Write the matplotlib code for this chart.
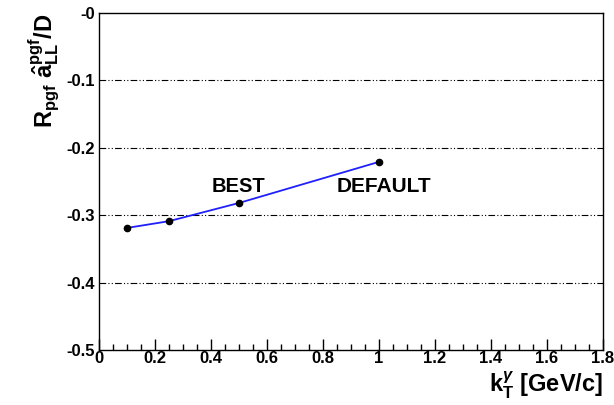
import matplotlib
matplotlib.use("Agg")
import matplotlib.pyplot as plt
from matplotlib.ticker import MultipleLocator

plt.rcParams["font.family"] = ["Liberation Sans", "DejaVu Sans"]
plt.rcParams["font.weight"] = "bold"
plt.rcParams["mathtext.fontset"] = "custom"
plt.rcParams["mathtext.rm"] = "Liberation Sans:bold"
plt.rcParams["mathtext.it"] = "Liberation Sans:italic"
plt.rcParams["mathtext.bf"] = "Liberation Sans:bold"

# intrinsic kT values and resulting ratio
kt = [0.1, 0.25, 0.5, 1.0]
ratio = [-0.319, -0.309, -0.282, -0.221]
grid_levels = [-0.1, -0.2, -0.3, -0.4]
point_labels = ["BEST", "DEFAULT"]

fig = plt.figure(figsize=(6.14, 4.05), dpi=100)
ax = fig.add_axes([0.161, 0.136, 0.821, 0.832])

for g in grid_levels:
    ax.axhline(g, color="black", lw=0.8, ls=(0, (6, 2, 1, 2, 1, 2)))

ax.plot(kt, ratio, color="#2020ff", lw=1.3, zorder=3)
ax.plot(kt, ratio, "o", color="black", ms=4.5, zorder=4)

ax.text(0.403, -0.257, point_labels[0], fontsize=14.5, fontweight="bold", va="center")
ax.text(0.848, -0.257, point_labels[1], fontsize=15, fontweight="bold", va="center")

ax.set_xlim(0, 1.8)
ax.set_ylim(-0.5, 0)
ax.xaxis.set_major_locator(MultipleLocator(0.2))
ax.xaxis.set_minor_locator(MultipleLocator(0.05))
ax.yaxis.set_major_locator(MultipleLocator(0.1))

def xfmt(v, pos):
    if abs(v) < 1e-9:
        return "0"
    if abs(v - round(v)) < 1e-9:
        return str(int(round(v)))
    return f"{v:.1f}"

def yfmt(v, pos):
    return "-0" if abs(v) < 1e-9 else f"{v:.1f}"

ax.xaxis.set_major_formatter(plt.FuncFormatter(xfmt))
ax.yaxis.set_major_formatter(plt.FuncFormatter(yfmt))

ax.tick_params(axis="x", which="major", direction="in", length=8, width=1, labelsize=12, pad=1)
ax.tick_params(axis="x", which="minor", direction="in", length=4, width=1)
ax.tick_params(axis="y", which="major", direction="in", length=0, width=1, labelsize=12, pad=3)
for lbl in ax.get_xticklabels() + ax.get_yticklabels():
    lbl.set_fontweight("bold")
for sp in ax.spines.values():
    sp.set_linewidth(1)

ax.set_xlabel(r"k$_{\mathrm{T}}^{\gamma}$ [GeV/c]", fontsize=17, fontweight="bold", loc="right", labelpad=2)
ax.set_ylabel(r"R$_{\mathrm{pgf}}$ $\hat{\mathrm{a}}_{\mathrm{LL}}^{\mathrm{pgf}}$/D", fontsize=17, fontweight="bold", loc="top", labelpad=4)

fig.savefig("out.png", dpi=100)
